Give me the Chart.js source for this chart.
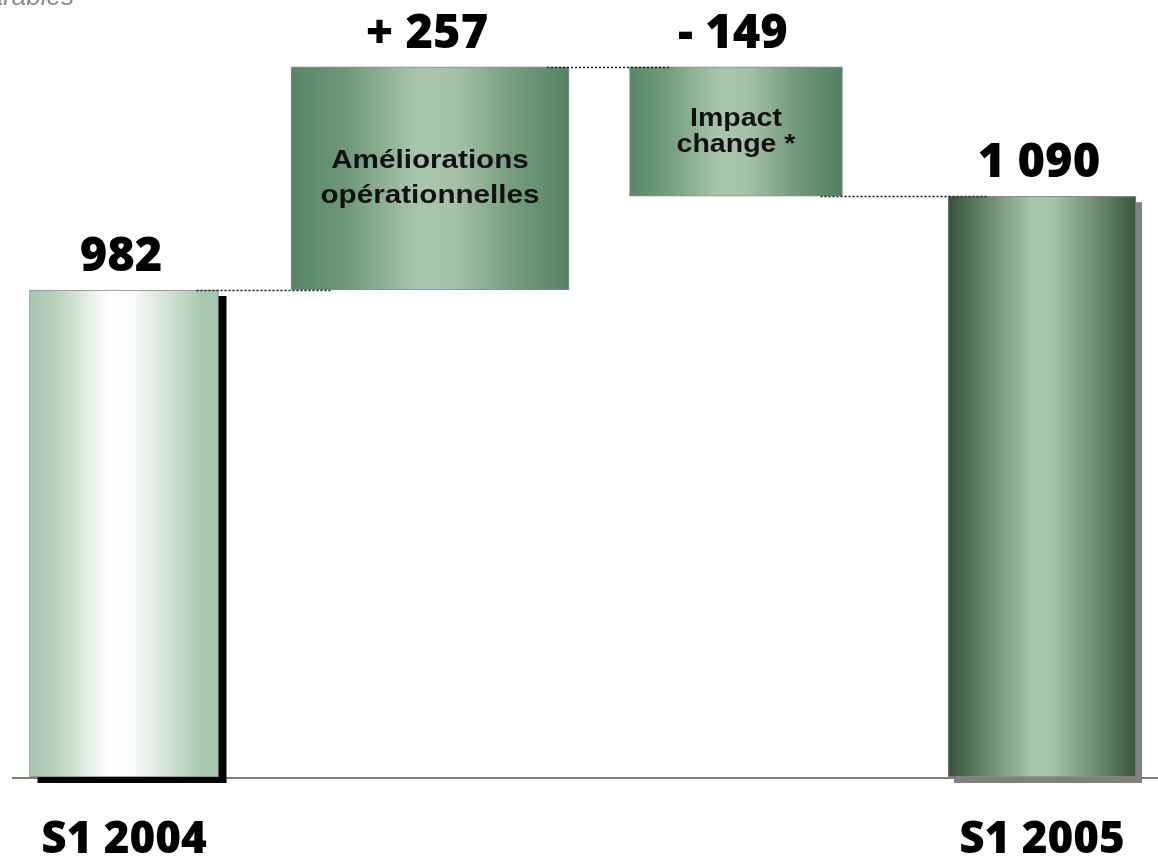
<!DOCTYPE html>
<html lang="fr">
<head>
<meta charset="utf-8">
<title>Résultat S1 2004 – S1 2005</title>
<script src="https://cdn.jsdelivr.net/npm/chart.js@4.4.1/dist/chart.umd.min.js"></script>
<style>
  html, body { margin: 0; padding: 0; background: #ffffff; overflow: hidden; }
  #wrap { position: relative; width: 1158px; height: 857px; }
  canvas { display: block; }
</style>
</head>
<body>
<div id="wrap"><canvas id="chart" width="1158" height="857"></canvas></div>
<script>
// ---- data ----
const categories = ['S1 2004', 'Améliorations opérationnelles', 'Impact change *', 'S1 2005'];
const axisLabels = ['S1 2004', '', '', 'S1 2005'];
const stepValues = [982, 257, -149, 1090];
const stepKinds = ['total', 'delta', 'delta', 'total'];
const insideLabels = [[], ['Améliorations', 'opérationnelles'], ['Impact', 'change *'], []];
const noteText = 'À structures comparables';

// ---- presentation ----
const axisMin = 421;
const axisMax = 1300;
const barWidths = [189, 278, 213, 188];
const gradientStops = [
  [[0, '#a7c6ae'], [0.12, '#b3cfb9'], [0.42, '#ffffff'], [0.55, '#f9fbf9'], [0.9, '#abc9b2'], [1, '#a8c7af']],
  [[0, '#568665'], [0.2, '#6f9879'], [0.45, '#a8c5ac'], [0.58, '#a7c4ab'], [0.8, '#759c7e'], [1, '#548463']],
  [[0, '#588866'], [0.2, '#77a080'], [0.42, '#a9c6ad'], [0.55, '#a5c3a9'], [0.8, '#6f977a'], [1, '#4f7f5e']],
  [[0, '#37523a'], [0.22, '#6c8c71'], [0.45, '#a8c6ab'], [0.55, '#a6c4a9'], [0.8, '#6a8a6f'], [1, '#3a563e']]
];
const barShadows = [
  { color: '#000000', dx: 8, dy: 6 },
  null,
  null,
  { color: '#808080', dx: 6, dy: 6 }
];
const insideStyle = [null, { size: 26, lead: 35 }, { size: 25, lead: 26 }, null];
const insideStretch = 1.14;
const numberFont = '"Open Sans", "DejaVu Sans", sans-serif';
const textFont = '"Liberation Sans", Arial, sans-serif';

// ---- derived bar ranges (waterfall) ----
let running = 0;
const barRanges = [];
const levels = [];
stepValues.forEach((v, i) => {
  if (stepKinds[i] === 'total') {
    running = v;
    barRanges.push(v);
  } else {
    const start = running;
    running += v;
    barRanges.push([start, running]);
  }
  levels.push(running);
});

function formatValue(v, kind) {
  const s = String(Math.abs(v)).replace(/\B(?=(\d{3})+(?!\d))/g, ' ');
  if (kind === 'delta') return (v >= 0 ? '+ ' : '- ') + s;
  return s;
}

function barGradient(chart, i) {
  const stops = gradientStops[i];
  const xs = chart.scales && chart.scales.x;
  if (!chart.chartArea || !xs) return stops[2][1];
  const cx = xs.getPixelForValue(i);
  const half = barWidths[i] / 2;
  const g = chart.ctx.createLinearGradient(cx - half, 0, cx + half, 0);
  stops.forEach(([o, c]) => g.addColorStop(o, c));
  return g;
}

const datasets = categories.map((name, i) => ({
  label: name,
  data: categories.map((_, j) => (j === i ? barRanges[i] : null)),
  base: stepKinds[i] === 'total' ? axisMin : undefined,
  barThickness: barWidths[i],
  grouped: false,
  clip: false,
  borderWidth: 1,
  borderColor: '#8c8c8c',
  borderSkipped: false,
  backgroundColor: (ctx) => barGradient(ctx.chart, i)
}));

// offset drop shadows behind the two total bars
const shadowPlugin = {
  id: 'barShadow',
  beforeDatasetDraw(chart, args) {
    const s = barShadows[args.index];
    if (!s) return;
    const el = args.meta.data[args.index];
    if (!el) return;
    const ctx = chart.ctx;
    const top = Math.min(el.y, el.base);
    const h = Math.abs(el.base - el.y);
    ctx.save();
    ctx.fillStyle = s.color;
    ctx.fillRect(el.x - el.width / 2 + s.dx, top + s.dy, el.width, h);
    ctx.restore();
  }
};

// baseline, connectors, value labels, labels inside bars, note
const decorPlugin = {
  id: 'waterfallDecor',
  beforeDatasetsDraw(chart) {
    const ctx = chart.ctx;
    const y = chart.scales.y.bottom;
    ctx.save();
    ctx.strokeStyle = '#8b796d';
    ctx.lineWidth = 2;
    ctx.beginPath();
    ctx.moveTo(12, y + 1);
    ctx.lineTo(chart.width, y + 1);
    ctx.stroke();
    ctx.restore();
  },
  afterDatasetsDraw(chart) {
    const ctx = chart.ctx;
    const ys = chart.scales.y;
    const bars = categories.map((_, i) => chart.getDatasetMeta(i).data[i]);

    // dotted connectors between successive bars
    ctx.save();
    ctx.strokeStyle = '#1a1a1a';
    ctx.lineWidth = 1.6;
    ctx.setLineDash([2, 2]);
    for (let i = 0; i < bars.length - 1; i++) {
      const a = bars[i], b = bars[i + 1];
      const y = Math.round(ys.getPixelForValue(levels[i])) + 0.5;
      ctx.beginPath();
      ctx.moveTo(a.x + a.width / 2 - 22, y);
      ctx.lineTo(b.x - b.width / 2 + 40, y);
      ctx.stroke();
    }
    ctx.restore();

    // value labels above each bar
    ctx.save();
    ctx.fillStyle = '#000000';
    ctx.textAlign = 'center';
    ctx.textBaseline = 'alphabetic';
    ctx.font = '800 47px ' + numberFont;
    bars.forEach((el, i) => {
      const top = Math.min(el.y, el.base);
      ctx.fillText(formatValue(stepValues[i], stepKinds[i]), el.x - 3, top - 19);
    });
    ctx.restore();

    // labels written inside the floating bars
    bars.forEach((el, i) => {
      const lines = insideLabels[i];
      const st = insideStyle[i];
      if (!lines.length || !st) return;
      const top = Math.min(el.y, el.base);
      const bottom = Math.max(el.y, el.base);
      const mid = (top + bottom) / 2;
      ctx.save();
      ctx.translate(el.x, mid);
      ctx.scale(insideStretch, 1);
      ctx.font = 'bold ' + st.size + 'px ' + textFont;
      ctx.fillStyle = '#111111';
      ctx.textAlign = 'center';
      ctx.textBaseline = 'middle';
      lines.forEach((t, k) => {
        ctx.fillText(t, 0, (k - (lines.length - 1) / 2) * st.lead);
      });
      ctx.restore();
    });

    // note at the top left
    ctx.save();
    ctx.font = 'italic 26px ' + textFont;
    ctx.fillStyle = '#8a8a8a';
    ctx.textAlign = 'right';
    ctx.textBaseline = 'alphabetic';
    ctx.fillText(noteText, 74, 5);
    ctx.restore();
  }
};

new Chart(document.getElementById('chart'), {
  type: 'bar',
  data: { labels: categories, datasets },
  options: {
    responsive: false,
    animation: false,
    events: [],
    layout: { padding: { left: 124, right: 116, top: 14, bottom: 0 } },
    plugins: { legend: { display: false }, tooltip: { enabled: false } },
    scales: {
      x: {
        offset: false,
        grid: { display: false, drawTicks: false },
        border: { display: false },
        ticks: {
          autoSkip: false,
          maxRotation: 0,
          padding: 37,
          color: '#000000',
          font: { family: numberFont, size: 44, weight: '800' },
          callback: (value, index) => axisLabels[index]
        },
        afterFit: (scale) => {
          scale.height = 80;
          scale.paddingLeft = 0;
          scale.paddingRight = 0;
        }
      },
      y: {
        display: false,
        min: axisMin,
        max: axisMax
      }
    }
  },
  plugins: [shadowPlugin, decorPlugin]
});
</script>
</body>
</html>
